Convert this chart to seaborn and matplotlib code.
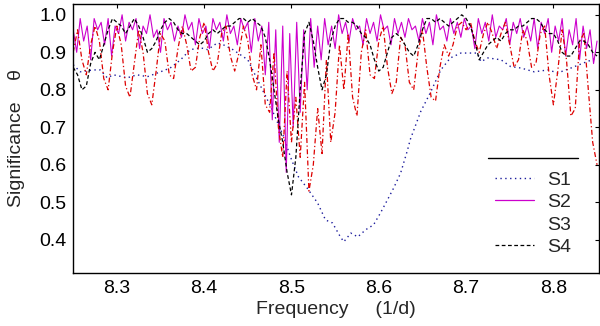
import numpy as np
import matplotlib
matplotlib.use("Agg")
import matplotlib.pyplot as plt
import seaborn as sns
from matplotlib.lines import Line2D

# S1: broad dip, irregular sampling
s1_freq = [8.250, 8.258, 8.273, 8.281, 8.289, 8.296, 8.312, 8.323, 8.335, 8.350,
           8.361, 8.373, 8.384, 8.396, 8.404, 8.415, 8.422, 8.433, 8.450, 8.461,
           8.4725, 8.479, 8.491, 8.499, 8.508, 8.518, 8.530, 8.539, 8.547, 8.556,
           8.560, 8.568, 8.576, 8.585, 8.594, 8.602, 8.610, 8.617, 8.625, 8.633,
           8.636, 8.648, 8.659, 8.671, 8.682, 8.694, 8.705, 8.713, 8.717, 8.725,
           8.740, 8.751, 8.763, 8.778, 8.794, 8.805, 8.820, 8.835, 8.850]
s1_vals = [0.867, 0.848, 0.853, 0.853, 0.832, 0.840, 0.832, 0.840, 0.835, 0.848,
           0.858, 0.880, 0.907, 0.912, 0.907, 0.925, 0.920, 0.907, 0.880, 0.827,
           0.773, 0.740, 0.675, 0.620, 0.568, 0.538, 0.498, 0.453, 0.445, 0.408,
           0.395, 0.418, 0.408, 0.427, 0.440, 0.472, 0.507, 0.538, 0.578, 0.640,
           0.667, 0.742, 0.792, 0.853, 0.885, 0.898, 0.898, 0.898, 0.875, 0.885,
           0.880, 0.862, 0.858, 0.848, 0.853, 0.845, 0.858, 0.872, 0.885]

# S2: spiky series, step 0.004 from 8.25
s2_start, s2_step = 8.25, 0.004
s2_vals = [0.96, 0.90, 0.99, 0.93, 0.97, 0.88, 0.99, 0.96, 0.98, 0.92,
           0.99, 0.89, 0.97, 0.95, 1.00, 0.93, 0.98, 0.96, 0.99, 0.91,
           0.97, 0.95, 1.00, 0.94, 0.96, 0.90, 0.99, 0.96, 0.98, 0.93,
           0.97, 0.94, 1.00, 0.96, 0.98, 0.92, 0.99, 0.95, 0.97, 0.91,
           0.99, 0.96, 0.98, 0.93, 1.00, 0.95, 0.97, 0.92, 0.99, 0.96,
           0.98, 0.90, 0.99, 0.93, 0.97, 0.84, 0.98, 0.72, 0.96, 0.66,
           0.97, 0.58, 0.95, 0.70, 0.98, 0.74, 0.96, 0.80, 0.99, 0.86,
           0.97, 0.88, 0.99, 0.92, 0.97, 0.91, 1.00, 0.95, 0.98, 0.93,
           0.99, 0.96, 0.97, 0.92, 0.99, 0.95, 0.98, 0.93, 1.00, 0.96,
           0.97, 0.92, 0.99, 0.95, 0.98, 0.94, 0.99, 0.96, 0.97, 0.93,
           0.99, 0.95, 0.98, 0.92, 1.00, 0.96, 0.97, 0.93, 0.99, 0.95,
           0.98, 0.94, 0.99, 0.96, 0.97, 0.91, 0.99, 0.95, 0.98, 0.93,
           1.00, 0.94, 0.97, 0.96, 0.99, 0.92, 0.98, 0.95, 0.99, 0.94,
           0.97, 0.93, 0.99, 0.91, 0.98, 0.95, 0.99, 0.90, 0.97, 0.93,
           0.99, 0.89, 0.96, 0.92, 0.99, 0.88, 0.97, 0.91, 0.96, 0.87,
           0.93]

# S3 and S4: step 0.005 from 8.25
grid_start, grid_step = 8.25, 0.005
s3_vals = [0.90, 0.96, 0.88, 0.84, 0.92, 0.97, 0.93, 0.83, 0.80, 0.90,
           0.97, 0.92, 0.81, 0.78, 0.87, 0.96, 0.90, 0.79, 0.76, 0.85,
           0.95, 0.93, 0.84, 0.83, 0.91, 0.97, 0.92, 0.85, 0.86, 0.94,
           0.98, 0.90, 0.85, 0.87, 0.95, 0.97, 0.89, 0.85, 0.90, 0.97,
           0.93, 0.84, 0.80, 0.92, 0.76, 0.74, 0.90, 0.70, 0.62, 0.85,
           0.66, 0.78, 0.62, 0.82, 0.53, 0.60, 0.75, 0.63, 0.88, 0.66,
           0.74, 0.92, 0.80, 0.95, 0.78, 0.73, 0.90, 0.96, 0.84, 0.83,
           0.93, 0.97, 0.86, 0.79, 0.82, 0.94, 0.92, 0.82, 0.80, 0.90,
           0.96, 0.86, 0.78, 0.77, 0.86, 0.92, 0.89, 0.92, 0.97, 0.98,
           0.96, 0.98, 0.93, 0.90, 0.95, 0.98, 0.95, 0.91, 0.95, 0.98,
           0.92, 0.86, 0.88, 0.96, 0.93, 0.86, 0.87, 0.95, 0.97, 0.84,
           0.76, 0.85, 0.96, 0.88, 0.73, 0.75, 0.93, 0.95, 0.80, 0.66,
           0.60]
s4_vals = [0.86, 0.84, 0.80, 0.81, 0.87, 0.90, 0.88, 0.92, 0.96, 0.99,
           0.98, 0.97, 0.95, 0.97, 0.99, 0.97, 0.94, 0.90, 0.91, 0.93,
           0.96, 0.98, 0.99, 0.98, 0.96, 0.95, 0.95, 0.94, 0.93, 0.92,
           0.93, 0.95, 0.96, 0.95, 0.96, 0.97, 0.97, 0.98, 0.99, 0.99,
           0.98, 0.99, 0.98, 0.97, 0.94, 0.88, 0.80, 0.72, 0.66, 0.58,
           0.52, 0.62, 0.80, 0.95, 0.98, 0.93, 0.86, 0.80, 0.84, 0.93,
           0.97, 0.99, 0.99, 0.98, 0.98, 0.97, 0.95, 0.94, 0.92, 0.88,
           0.85, 0.86, 0.90, 0.94, 0.95, 0.94, 0.92, 0.90, 0.89, 0.92,
           0.96, 0.99, 0.99, 0.98, 0.99, 0.98, 0.97, 0.98, 0.99, 1.00,
           0.99, 0.97, 0.93, 0.88, 0.90, 0.92, 0.93, 0.94, 0.93, 0.95,
           0.96, 0.96, 0.97, 0.97, 0.98, 0.99, 0.99, 0.98, 0.96, 0.95,
           0.95, 0.93, 0.90, 0.89, 0.89, 0.91, 0.93, 0.93, 0.92, 0.90,
           0.89]

x_ticks = [8.3, 8.4, 8.5, 8.6, 8.7, 8.8]
y_ticks = [0.4, 0.5, 0.6, 0.7, 0.8, 0.9, 1.0]

s2_freq = s2_start + s2_step * np.arange(len(s2_vals))
grid_freq = grid_start + grid_step * np.arange(len(s3_vals))

sns.set_style("white")
plt.rcParams['font.family'] = ['Liberation Sans', 'DejaVu Sans']

fig = plt.figure(figsize=(6, 3.26), dpi=100)
ax = fig.add_axes([0.122, 0.163, 0.876, 0.825])

col_s1 = '#1c1c9c'
col_s2 = '#cc00cc'
col_s3 = '#dd0000'
col_s4 = 'black'

sns.lineplot(x=list(s1_freq), y=s1_vals, ax=ax, color=col_s1, lw=1.0,
             linestyle=(0, (1, 2.5)), sort=False)
sns.lineplot(x=s2_freq, y=s2_vals, ax=ax, color=col_s2, lw=0.8, sort=False)
sns.lineplot(x=grid_freq, y=s3_vals, ax=ax, color=col_s3, lw=0.9,
             linestyle=(0, (4, 2, 1, 2)), sort=False)
sns.lineplot(x=grid_freq, y=s4_vals, ax=ax, color=col_s4, lw=0.9,
             linestyle=(0, (3, 2)), sort=False)

ax.set_xlim(8.25, 8.852)
ax.set_ylim(0.312, 1.029)
ax.set_xticks(x_ticks)
ax.set_yticks(y_ticks)
ax.set_xticklabels([f"{t:.1f}" for t in x_ticks])
ax.set_yticklabels([f"{t:.1f}" for t in y_ticks])
ax.tick_params(direction='in', length=3, width=0.8, labelsize=14,
               top=True, right=True, colors='black', pad=5)
for sp in ax.spines.values():
    sp.set_color('black')
    sp.set_linewidth(1.0)

ax.set_xlabel("Frequency     (1/d)", fontsize=14, labelpad=3)
ax.set_ylabel("Significance    θ", fontsize=14, labelpad=10)

# separator line above the legend
ax.plot([0.789, 0.960], [0.428, 0.428], transform=ax.transAxes,
        color='black', lw=1.0)

handles = [Line2D([], [], color=col_s1, lw=1.0, linestyle=(0, (1, 2.5))),
           Line2D([], [], color=col_s2, lw=0.9),
           Line2D([], [], color=col_s3, lw=0.9, linestyle='none'),
           Line2D([], [], color=col_s4, lw=0.9, linestyle=(0, (3, 2)))]
fig.legend(handles, ["S1", "S2", "S3", "S4"], loc='upper left',
           bbox_to_anchor=(0.825, 1 - 171 / 326), frameon=False,
           fontsize=14, handlelength=2.0, handletextpad=0.7,
           labelspacing=0.25, borderpad=0, borderaxespad=0)

fig.savefig("out.png", dpi=100)
